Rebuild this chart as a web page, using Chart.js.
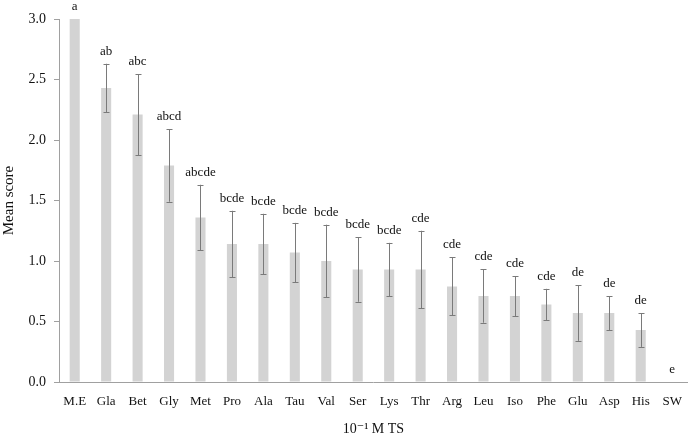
<!DOCTYPE html>
<html>
<head>
<meta charset="utf-8">
<script src="https://cdn.jsdelivr.net/npm/chart.js@4"></script>
<style>
  html, body { margin: 0; padding: 0; background: #fff; }
  #wrap { width: 694px; height: 438px; }
</style>
</head>
<body>
<div id="wrap"><canvas id="scoreChart"></canvas></div>
<script>
// data
const treatments = ['M.E', 'Gla', 'Bet', 'Gly', 'Met', 'Pro', 'Ala', 'Tau', 'Val', 'Ser',
                    'Lys', 'Thr', 'Arg', 'Leu', 'Iso', 'Phe', 'Glu', 'Asp', 'His', 'SW'];
const meanScores = [3.0, 2.43, 2.21, 1.79, 1.36, 1.14, 1.14, 1.07, 1.0, 0.93,
                    0.93, 0.93, 0.79, 0.71, 0.71, 0.64, 0.57, 0.57, 0.43, 0];
const errors = [0, 0.2, 0.335, 0.3, 0.27, 0.275, 0.25, 0.245, 0.3, 0.267,
                0.22, 0.32, 0.24, 0.22, 0.165, 0.13, 0.23, 0.14, 0.14, 0];
const groupLetters = ['a', 'ab', 'abc', 'abcd', 'abcde', 'bcde', 'bcde', 'bcde', 'bcde', 'bcde',
                      'bcde', 'cde', 'cde', 'cde', 'cde', 'cde', 'de', 'de', 'de', 'e'];
const yTicks = [0, 0.5, 1.0, 1.5, 2.0, 2.5, 3.0];

const serif = "'Liberation Serif', 'DejaVu Serif', serif";

// error bars + significance letters
const errorBarPlugin = {
    id: 'errorBars',
    afterDatasetsDraw(chart) {
        const ctx = chart.ctx;
        const meta = chart.getDatasetMeta(0);
        const y = chart.scales.y;
        ctx.save();
        ctx.strokeStyle = '#7a7a7a';
        ctx.lineWidth = 1;
        meta.data.forEach((bar, i) => {
            const x = Math.round(bar.x) + 0.5;
            const v = meanScores[i];
            const e = errors[i];
            const yTop = y.getPixelForValue(v + e);
            if (e > 0) {
                const yBot = y.getPixelForValue(v - e);
                ctx.beginPath();
                ctx.moveTo(x, yTop);
                ctx.lineTo(x, yBot);
                ctx.moveTo(x - 3, Math.round(yTop) + 0.5);
                ctx.lineTo(x + 3, Math.round(yTop) + 0.5);
                ctx.moveTo(x - 3, Math.round(yBot) + 0.5);
                ctx.lineTo(x + 3, Math.round(yBot) + 0.5);
                ctx.stroke();
            }
            ctx.fillStyle = '#111';
            ctx.font = '13px ' + serif;
            ctx.textAlign = 'center';
            ctx.textBaseline = 'alphabetic';
            ctx.fillText(groupLetters[i], bar.x, yTop - 9);
        });
        ctx.restore();
    }
};

window.onload = () => {
    const ctx = document.getElementById('scoreChart').getContext('2d');
    new Chart(ctx, {
        type: 'bar',
        data: {
            labels: treatments,
            datasets: [{
                data: meanScores,
                backgroundColor: '#d3d3d3',
                borderWidth: 0,
                categoryPercentage: 1,
                barPercentage: 0.32
            }]
        },
        options: {
            responsive: true,
            maintainAspectRatio: false,
            animation: false,
            layout: { padding: { top: 19, right: 4, left: 0, bottom: 0 } },
            plugins: {
                legend: { display: false },
                tooltip: { enabled: false }
            },
            scales: {
                x: {
                    grid: { display: false, drawTicks: false },
                    border: { display: true, color: '#a0a0a0', width: 1 },
                    ticks: { color: '#111', font: { family: serif, size: 13 }, padding: 12, maxRotation: 0, autoSkip: false },
                    title: { display: true, text: '10\u207B\u00B9 M TS', color: '#111', font: { family: serif, size: 14 }, padding: { top: 10, bottom: 0 } },
                    afterFit: (s) => { s.height = 56; }
                },
                y: {
                    min: 0,
                    max: 3,
                    afterBuildTicks: (s) => { s.ticks = yTicks.map(v => ({ value: v })); },
                    grid: { display: true, drawOnChartArea: false, drawTicks: true, tickLength: 5, color: '#a0a0a0' },
                    border: { display: true, color: '#a0a0a0', width: 1 },
                    ticks: { color: '#111', font: { family: serif, size: 14 }, padding: 8, callback: (v) => Number(v).toFixed(1) },
                    title: { display: true, text: 'Mean score', color: '#111', font: { family: serif, size: 15 }, padding: 0 },
                    afterFit: (s) => { s.width = 59; }
                }
            }
        },
        plugins: [errorBarPlugin]
    });
};
</script>
</body>
</html>
